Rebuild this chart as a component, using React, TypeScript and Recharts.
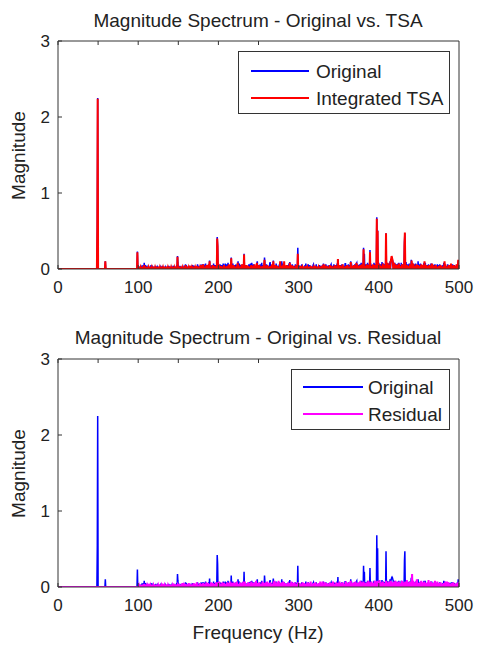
import { Line, LineChart, XAxis, YAxis } from "recharts";

// FFT bins, 0.5 Hz apart
const binHz = Array.from({ length: 1001 }, (_, i) => i / 2);
const xTicks = [0, 100, 200, 300, 400, 500];
const yTicks = [0, 1, 2, 3];

// noise floor, one value every 2 Hz (original from 100 Hz, tsa / residual from 101 Hz)
const origFloor = [
  0.01, 0.03, 0.02, 0.05, 0.03, 0.04, 0.02, 0.03, 0.05, 0.02, 0.03, 0.04, 0.02, 0.03, 0.02, 0.04, 0.03, 0.02, 0.03, 0.04,
  0.03, 0.02, 0.04, 0.03, 0.05, 0.02, 0.04, 0.03, 0.02, 0.04, 0.05, 0.03, 0.04, 0.02, 0.05, 0.04, 0.03, 0.06, 0.04, 0.05,
  0.06, 0.04, 0.07, 0.05, 0.06, 0.04, 0.05, 0.07, 0.05, 0.06, 0.04, 0.06, 0.05, 0.07, 0.04, 0.06, 0.08, 0.05, 0.06, 0.07,
  0.05, 0.06, 0.04, 0.07, 0.05, 0.06, 0.08, 0.05, 0.04, 0.06, 0.07, 0.05, 0.06, 0.04, 0.07, 0.05, 0.06, 0.08, 0.05, 0.07,
  0.06, 0.04, 0.07, 0.05, 0.06, 0.05, 0.07, 0.04, 0.06, 0.05, 0.07, 0.06, 0.04, 0.05, 0.07, 0.05, 0.06, 0.04, 0.06, 0.05,
  0.05, 0.04, 0.06, 0.03, 0.05, 0.04, 0.06, 0.05, 0.03, 0.05, 0.04, 0.06, 0.03, 0.05, 0.04, 0.05, 0.03, 0.06, 0.04, 0.05,
  0.05, 0.04, 0.06, 0.05, 0.07, 0.04, 0.05, 0.06, 0.04, 0.07, 0.05, 0.06, 0.05, 0.07, 0.04, 0.06, 0.07, 0.05, 0.06, 0.08,
  0.07, 0.05, 0.06, 0.08, 0.06, 0.07, 0.05, 0.08, 0.06, 0.07, 0.08, 0.06, 0.09, 0.07, 0.06, 0.08, 0.07, 0.1, 0.08, 0.09,
  0.08, 0.06, 0.07, 0.05, 0.08, 0.06, 0.07, 0.09, 0.06, 0.07, 0.05, 0.08, 0.06, 0.07, 0.05, 0.06, 0.07, 0.05, 0.06, 0.08,
  0.05, 0.06, 0.04, 0.07, 0.05, 0.06, 0.04, 0.05, 0.06, 0.04, 0.05, 0.07, 0.04, 0.06, 0.05, 0.04, 0.06, 0.05, 0.04, 0.06,
];
const tsaFloor = [
  0.01, 0.02, 0.01, 0.02, 0.03, 0.01, 0.02, 0.01, 0.02, 0.01, 0.02, 0.03, 0.01, 0.02, 0.01, 0.02, 0.01, 0.03, 0.02, 0.01,
  0.02, 0.01, 0.02, 0.03, 0.02, 0.01, 0.03, 0.02, 0.01, 0.02, 0.03, 0.02, 0.04, 0.02, 0.03, 0.02, 0.04, 0.03, 0.02, 0.05,
  0.04, 0.03, 0.05, 0.02, 0.04, 0.03, 0.05, 0.04, 0.03, 0.05, 0.02, 0.04, 0.03, 0.05, 0.03, 0.04, 0.06, 0.03, 0.04, 0.05,
  0.03, 0.04, 0.05, 0.03, 0.06, 0.04, 0.03, 0.05, 0.04, 0.03, 0.05, 0.04, 0.06, 0.03, 0.04, 0.05, 0.03, 0.04, 0.06, 0.04,
  0.05, 0.03, 0.04, 0.06, 0.03, 0.05, 0.04, 0.03, 0.05, 0.04, 0.06, 0.03, 0.05, 0.04, 0.03, 0.05, 0.04, 0.03, 0.05, 0.04,
  0.03, 0.04, 0.02, 0.03, 0.04, 0.02, 0.03, 0.04, 0.03, 0.02, 0.04, 0.03, 0.02, 0.03, 0.04, 0.03, 0.02, 0.04, 0.03, 0.05,
  0.04, 0.03, 0.05, 0.04, 0.03, 0.05, 0.04, 0.06, 0.03, 0.04, 0.05, 0.03, 0.06, 0.04, 0.05, 0.03, 0.06, 0.04, 0.05, 0.06,
  0.05, 0.04, 0.06, 0.05, 0.07, 0.04, 0.06, 0.05, 0.07, 0.05, 0.06, 0.04, 0.07, 0.05, 0.06, 0.08, 0.05, 0.07, 0.06, 0.08,
  0.06, 0.05, 0.07, 0.04, 0.06, 0.05, 0.07, 0.05, 0.04, 0.06, 0.05, 0.07, 0.04, 0.06, 0.05, 0.04, 0.06, 0.05, 0.07, 0.05,
  0.04, 0.05, 0.03, 0.06, 0.04, 0.05, 0.03, 0.04, 0.05, 0.03, 0.04, 0.06, 0.03, 0.05, 0.04, 0.03, 0.05, 0.04, 0.06, 0.05,
];
const resFloor = [
  0.02, 0.03, 0.01, 0.02, 0.03, 0.02, 0.04, 0.02, 0.03, 0.02, 0.01, 0.03, 0.02, 0.03, 0.02, 0.04, 0.02, 0.03, 0.02, 0.03,
  0.03, 0.02, 0.04, 0.03, 0.02, 0.04, 0.03, 0.05, 0.02, 0.04, 0.03, 0.05, 0.04, 0.03, 0.05, 0.04, 0.06, 0.03, 0.05, 0.04,
  0.05, 0.04, 0.06, 0.05, 0.04, 0.06, 0.05, 0.04, 0.06, 0.05, 0.07, 0.04, 0.06, 0.05, 0.04, 0.06, 0.05, 0.07, 0.05, 0.06,
  0.05, 0.07, 0.04, 0.06, 0.05, 0.07, 0.06, 0.04, 0.06, 0.05, 0.07, 0.05, 0.06, 0.08, 0.05, 0.06, 0.04, 0.07, 0.05, 0.06,
  0.07, 0.05, 0.06, 0.04, 0.07, 0.05, 0.06, 0.08, 0.05, 0.06, 0.07, 0.05, 0.04, 0.06, 0.05, 0.07, 0.05, 0.06, 0.04, 0.06,
  0.05, 0.04, 0.06, 0.05, 0.04, 0.06, 0.05, 0.07, 0.04, 0.05, 0.06, 0.04, 0.05, 0.07, 0.05, 0.04, 0.06, 0.05, 0.04, 0.06,
  0.05, 0.07, 0.04, 0.06, 0.05, 0.07, 0.05, 0.06, 0.04, 0.07, 0.05, 0.06, 0.08, 0.05, 0.06, 0.07, 0.05, 0.06, 0.08, 0.06,
  0.07, 0.05, 0.06, 0.08, 0.06, 0.07, 0.05, 0.08, 0.06, 0.07, 0.09, 0.06, 0.07, 0.05, 0.08, 0.06, 0.07, 0.08, 0.06, 0.07,
  0.08, 0.06, 0.07, 0.05, 0.08, 0.06, 0.07, 0.09, 0.06, 0.07, 0.05, 0.08, 0.06, 0.07, 0.05, 0.06, 0.08, 0.06, 0.07, 0.05,
  0.06, 0.05, 0.07, 0.05, 0.06, 0.04, 0.07, 0.05, 0.06, 0.04, 0.05, 0.07, 0.05, 0.06, 0.04, 0.05, 0.06, 0.04, 0.05, 0.06,
];

// [Hz, magnitude]
const origPeaks: [number, number][] = [
  [49, 0.55], [49.5, 2.25], [59, 0.1], [99, 0.23], [107.5, 0.08], [109, 0.05],
  [149, 0.17], [149.5, 0.08], [159, 0.06], [178.5, 0.05], [181.5, 0.06], [189, 0.11],
  [198.5, 0.42], [199, 0.31], [208.5, 0.07], [216, 0.15], [224.5, 0.1], [232, 0.2],
  [241.5, 0.08], [248.5, 0.1], [257.5, 0.15], [264.5, 0.09], [268.5, 0.11], [279, 0.1],
  [289, 0.09], [299, 0.28], [309, 0.07], [318.5, 0.06], [331, 0.07], [340.5, 0.06],
  [349, 0.13], [358.5, 0.07], [365, 0.1], [372.5, 0.08], [381, 0.28], [382, 0.2],
  [389, 0.25], [397.5, 0.68], [398.5, 0.51], [409, 0.47], [415, 0.07], [415.5, 0.1],
  [416, 0.12], [416.5, 0.13], [417, 0.12], [417.5, 0.1], [418, 0.08], [425, 0.08],
  [432, 0.35], [432.5, 0.47], [440.5, 0.12], [449, 0.1], [456.5, 0.08], [465, 0.07],
  [473, 0.06], [481, 0.08], [490.5, 0.06], [499, 0.1],
];
const tsaPeaks: [number, number][] = [
  [49, 0.55], [49.5, 2.24], [59, 0.1], [99, 0.22], [107.5, 0.05], [149, 0.16],
  [159, 0.05], [181, 0.06], [189, 0.1], [198.5, 0.4], [199, 0.3], [216, 0.14],
  [224, 0.08], [232, 0.19], [248, 0.08], [257.5, 0.12], [268.5, 0.1], [277, 0.1],
  [282, 0.1], [289, 0.08], [299, 0.2], [331, 0.06], [349, 0.13], [365, 0.09],
  [372, 0.08], [381, 0.26], [389, 0.22], [397.5, 0.66], [398.5, 0.5], [409, 0.47],
  [414.5, 0.08], [415, 0.11], [415.5, 0.14], [416, 0.17], [416.5, 0.15], [417, 0.12],
  [417.5, 0.09], [432, 0.32], [432.5, 0.48], [441, 0.11], [457, 0.1], [466, 0.07],
  [482, 0.1], [490, 0.07], [499, 0.12],
];
const resPeaks: [number, number][] = [
  [107.5, 0.04], [199.5, 0.05], [232.5, 0.06], [270, 0.08], [330, 0.07], [398, 0.08],
  [441.5, 0.17], [447.5, 0.1], [462, 0.09], [470, 0.08], [485, 0.07],
];

function buildSpectrum(floorStartHz: number, floor: number[], peaks: [number, number][]) {
  const mags = binHz.map(() => 0);
  floor.forEach((v, i) => {
    mags[Math.round((floorStartHz + i * 2) * 2)] = v;
  });
  peaks.forEach(([hz, v]) => {
    mags[Math.round(hz * 2)] = v;
  });
  return mags;
}

const original = buildSpectrum(100, origFloor, origPeaks);
const tsa = buildSpectrum(101, tsaFloor, tsaPeaks);
const residual = buildSpectrum(101, resFloor, resPeaks);

const topData = binHz.map((hz, i) => ({ hz, original: original[i], other: tsa[i] }));
const bottomData = binHz.map((hz, i) => ({ hz, original: original[i], other: residual[i] }));

const FONT = '"Liberation Sans", Arial, sans-serif';
const TEXT = "#222";
const AXIS = "#333";

interface PanelProps {
  top: number;
  height: number;
  data: { hz: number; original: number; other: number }[];
  otherName: string;
  otherColor: string;
}

function Panel({ top, height, data, otherName, otherColor }: PanelProps) {
  return (
    <div style={{ position: "absolute", left: 0, top, width: 477, height }}>
      <LineChart
        width={477}
        height={height}
        data={data}
        margin={{ top: 40, right: 17, left: 8, bottom: height - 41 - 228 - 30 }}
        style={{ fontFamily: FONT }}
      >
        <XAxis
          dataKey="hz"
          type="number"
          domain={[0, 500]}
          ticks={xTicks}
          allowDataOverflow
          height={30}
          stroke={AXIS}
          tickSize={-4}
          tickMargin={16}
          tick={{ fill: TEXT, fontSize: 17 }}
        />
        <XAxis
          xAxisId="top"
          orientation="top"
          type="number"
          domain={[0, 500]}
          ticks={xTicks}
          height={1}
          stroke={AXIS}
          tickSize={-4}
          tickFormatter={() => ""}
        />
        <YAxis
          type="number"
          domain={[0, 3]}
          ticks={yTicks}
          allowDataOverflow
          width={50}
          stroke={AXIS}
          tickSize={-4}
          tickMargin={12}
          tick={{ fill: TEXT, fontSize: 17 }}
        />
        <YAxis
          yAxisId="right"
          orientation="right"
          type="number"
          domain={[0, 3]}
          ticks={yTicks}
          width={1}
          stroke={AXIS}
          tickSize={-4}
          tickFormatter={() => ""}
        />
        <Line
          dataKey="original"
          name="Original"
          type="linear"
          stroke="#0000ff"
          strokeWidth={1.5}
          dot={false}
          activeDot={false}
          isAnimationActive={false}
        />
        <Line
          dataKey="other"
          name={otherName}
          type="linear"
          stroke={otherColor}
          strokeWidth={2}
          dot={false}
          activeDot={false}
          isAnimationActive={false}
        />
      </LineChart>
    </div>
  );
}

function Label({ text, x, y }: { text: string; x: number; y: number }) {
  // x = horizontal centre, y = cap centre
  return (
    <div
      style={{
        position: "absolute",
        left: x - 200,
        top: y - 10.4,
        width: 400,
        textAlign: "center",
        fontSize: 19,
        lineHeight: "21px",
        color: TEXT,
        whiteSpace: "nowrap",
      }}
    >
      {text}
    </div>
  );
}

function YLabel({ y }: { y: number }) {
  return (
    <div
      style={{
        position: "absolute",
        left: 18 - 100,
        top: y - 10.5,
        width: 200,
        height: 21,
        textAlign: "center",
        fontSize: 19,
        lineHeight: "21px",
        color: TEXT,
        transform: "rotate(-90deg)",
      }}
    >
      Magnitude
    </div>
  );
}

interface LegendProps {
  left: number;
  top: number;
  width: number;
  height: number;
  rows: { name: string; color: string; y: number }[];
  swatchX: number;
  swatchW: number;
  textX: number;
}

function LegendBox({ left, top, width, height, rows, swatchX, swatchW, textX }: LegendProps) {
  return (
    <div
      style={{
        position: "absolute",
        left,
        top,
        width: width - 2,
        height: height - 2,
        border: `1px solid ${AXIS}`,
        background: "#fff",
      }}
    >
      {rows.map((r) => (
        <div key={r.name}>
          <div
            style={{
              position: "absolute",
              left: swatchX,
              top: r.y - 1,
              width: swatchW,
              height: 1.5,
              background: r.color,
            }}
          />
          <div
            style={{
              position: "absolute",
              left: textX,
              top: r.y - 10.4,
              fontSize: 19,
              lineHeight: "21px",
              color: TEXT,
              whiteSpace: "nowrap",
            }}
          >
            {r.name}
          </div>
        </div>
      ))}
    </div>
  );
}

export default function App() {
  return (
    <div
      style={{
        position: "absolute",
        left: 0,
        top: 0,
        width: 477,
        height: 649,
        background: "#fff",
        fontFamily: FONT,
        overflow: "hidden",
      }}
    >
      <Panel top={0} height={318} data={topData} otherName="Integrated TSA" otherColor="#ff0000" />
      <Panel top={318} height={331} data={bottomData} otherName="Residual" otherColor="#ff00ff" />

      <Label text="Magnitude Spectrum - Original vs. TSA" x={258} y={20.5} />
      <Label text="Magnitude Spectrum - Original vs. Residual" x={258} y={337.5} />
      <Label text="Frequency (Hz)" x={258} y={632} />
      <YLabel y={155} />
      <YLabel y={473} />

      <LegendBox
        left={238}
        top={51}
        width={212}
        height={63}
        swatchX={12}
        swatchW={58}
        textX={77}
        rows={[
          { name: "Original", color: "#0000ff", y: 19 },
          { name: "Integrated TSA", color: "#ff0000", y: 46 },
        ]}
      />
      <LegendBox
        left={291}
        top={369}
        width={159}
        height={61}
        swatchX={11}
        swatchW={60}
        textX={76}
        rows={[
          { name: "Original", color: "#0000ff", y: 17 },
          { name: "Residual", color: "#ff00ff", y: 44 },
        ]}
      />
    </div>
  );
}
